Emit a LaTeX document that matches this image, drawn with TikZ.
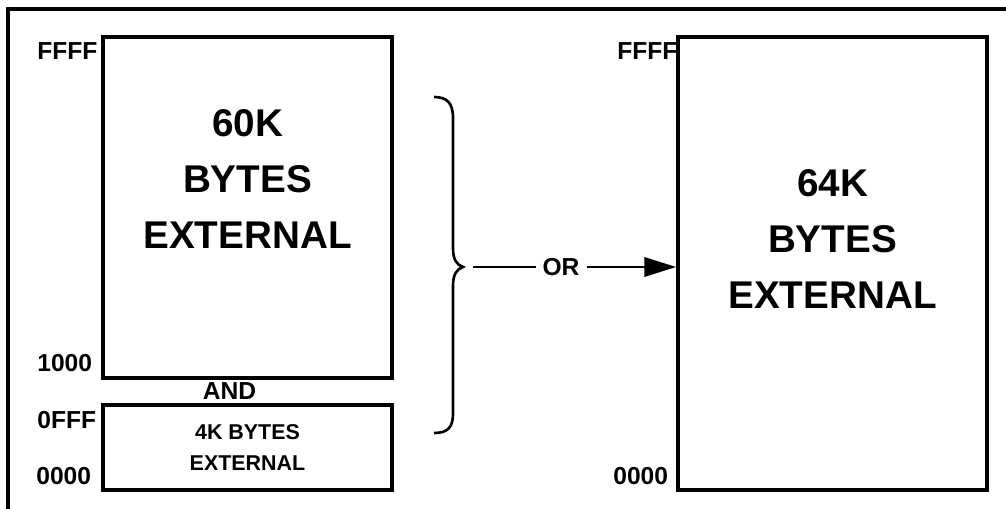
\documentclass[tikz,border=0pt]{standalone}
\usepackage{fontspec}
\setmainfont{Liberation Sans}
\usetikzlibrary{arrows.meta}

\begin{document}
\begin{tikzpicture}[x=0.02cm, y=-0.02cm,
		membox/.style={draw, line width=2.2pt, inner sep=0pt},
		bigtxt/.style={align=center, inner sep=0pt, font=\bfseries\fontsize{22}{31.7}\selectfont},
		smalltxt/.style={align=center, font=\bfseries\fontsize{12.2}{18.1}\selectfont},
		addr/.style={inner sep=0pt, anchor=west, font=\bfseries\fontsize{14}{16}\selectfont},
		arr/.style={line width=1.1pt, -{Triangle[length=18pt, width=11pt]}}]
			\useasboundingbox (0,0) rectangle (1006,509);
			% Frame
			\draw[line width=1.8pt] (8,509) -- (8,9) -- (1006,9);
			% Split memory: 60K above, 4K below
			\node[membox, minimum width=5.78cm, minimum height=6.82cm] (box60) at (247.5,207.5) {};
			\node[bigtxt] (txt60) at (247.5,179) {60K\\BYTES\\EXTERNAL};
			\node[membox, smalltxt, minimum width=5.78cm, minimum height=1.7cm] (box4) at (247.5,447.5)
				{4K BYTES\\EXTERNAL};
			\node[addr, anchor=center] (and) at (229.5,391.5) {AND};
			% Whole memory: 64K
			\node[membox, minimum width=6.18cm, minimum height=9.06cm] (box64) at (832.5,263.5) {};
			\node[bigtxt] (txt64) at (832.5,239) {64K\\BYTES\\EXTERNAL};
			% Address labels
			\node[addr] (ffffL) at (37,51) {FFFF};
			\node[addr] (oneK) at (37,363.5) {1000};
			\node[addr] (offf) at (37,420) {0FFF};
			\node[addr] (zeroL) at (36,476) {0000};
			\node[addr] (ffffR) at (617,51) {FFFF};
			\node[addr] (zeroR) at (613,476) {0000};
			% Brace
			\draw[line width=1.5pt] (434,97) .. controls (447,97) and (453,103) .. (453,118)
				-- (453,248) .. controls (453,260) and (457,265) .. (463,267)
				.. controls (457,269) and (453,274) .. (453,286)
				-- (453,414) .. controls (453,428) and (447,433) .. (434,433);
			\coordinate (bracetip) at (463,267);
			% OR arrow
			\draw[arr, shorten <=0.2cm] (bracetip) -- (bracetip -| box64.west)
				node[pos=0.46, fill=white, inner xsep=4pt, inner ysep=1pt,
				font=\bfseries\fontsize{14}{16}\selectfont] (or) {OR};
		\end{tikzpicture}
\end{document}
